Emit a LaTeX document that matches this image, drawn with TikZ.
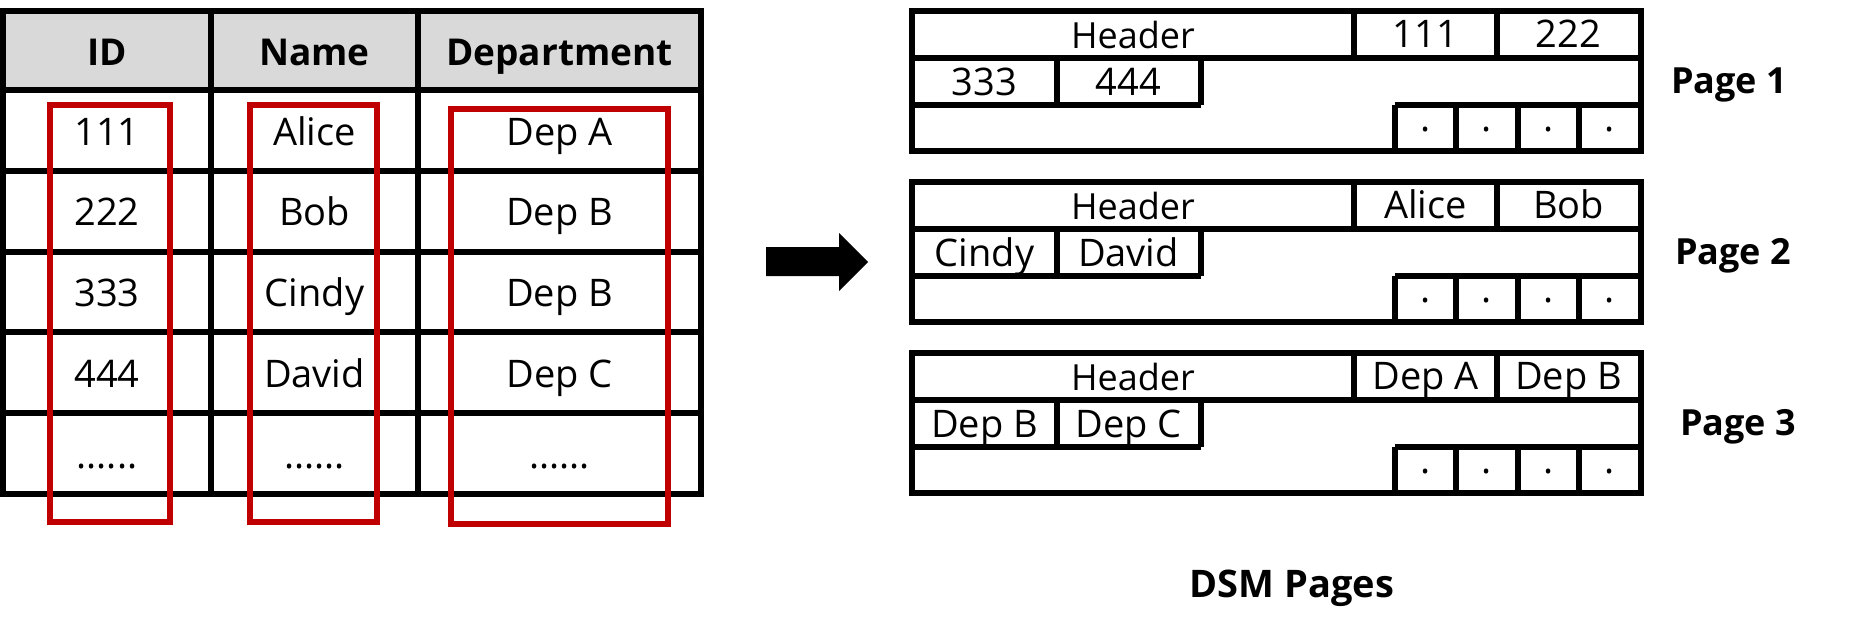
\documentclass[tikz,border=0pt]{standalone}
\usepackage{fontspec}
\setmainfont{Open Sans}
\definecolor{hdrgray}{HTML}{D9D9D9}
\definecolor{boxred}{HTML}{C00000}
\tikzset{
  grid/.style={line width=6pt, black},
  redbox/.style={line width=6pt, boxred},
  thead/.style={anchor=base, inner sep=0pt, font=\fontsize{37}{40}\selectfont\bfseries},
  tcell/.style={anchor=base, inner sep=0pt, font=\fontsize{38}{40}\selectfont},
  pcell/.style={anchor=base, inner sep=0pt, font=\fontsize{38}{40}\selectfont},
  phead/.style={anchor=base, inner sep=0pt, font=\fontsize{36}{40}\selectfont},
  pdot/.style={inner sep=0pt, font=\fontsize{38}{40}\selectfont},
  plabel/.style={anchor=base, inner sep=0pt, font=\fontsize{36}{40}\selectfont\bfseries},
}
\begin{document}
\begin{tikzpicture}[x=1pt,y=-1pt]
\useasboundingbox (0,0) rectangle (1871,629);
% ---------- table ----------
\fill[hdrgray] (3,11) rectangle (701,90);
\draw[grid] (3,11) rectangle (701,494);
\foreach \yy in {90,171,252,332,413} \draw[grid] (3,\yy) -- (701,\yy);
\foreach \xx in {211,418} \draw[grid] (\xx,11) -- (\xx,494);
\node[thead] (hid) at (107,65) {ID};
\node[thead] (hname) at (314.5,65) {Name};
\node[thead] (hdep) at (559.5,65) {Department};
\node[tcell] (c11) at (107,145) {111};
\node[tcell] (c21) at (107,225.75) {222};
\node[tcell] (c31) at (107,306.5) {333};
\node[tcell] (c41) at (107,387.25) {444};
\node[tcell] (c51) at (107,468) {......};
\node[tcell] (c12) at (314.5,145) {Alice};
\node[tcell] (c22) at (314.5,225.75) {Bob};
\node[tcell] (c32) at (314.5,306.5) {Cindy};
\node[tcell] (c42) at (314.5,387.25) {David};
\node[tcell] (c52) at (314.5,468) {......};
\node[tcell] (c13) at (559.5,145) {Dep A};
\node[tcell] (c23) at (559.5,225.75) {Dep B};
\node[tcell] (c33) at (559.5,306.5) {Dep B};
\node[tcell] (c43) at (559.5,387.25) {Dep C};
\node[tcell] (c53) at (559.5,468) {......};
% red column boxes
\draw[redbox] (49.5,105) rectangle (169.5,522);
\draw[redbox] (249.5,105) rectangle (377,521.5);
\draw[redbox] (451,109) rectangle (668,523.5);
% ---------- arrow ----------
\fill[black] (766,247) -- (839,247) -- (839,233) -- (868,262) -- (839,291) -- (839,276) -- (766,276) -- cycle;
% ---------- pages ----------
\foreach \dy/\ha/\hb/\ra/\rb/\lab/\lx in {0/111/222/333/444/Page 1/1729, 171/Alice/Bob/Cindy/David/Page 2/1733, 342/Dep A/Dep B/Dep B/Dep C/Page 3/1738}{
  \begin{scope}[yshift=-\dy pt]
    \draw[grid] (912,11) rectangle (1641,151);
    \draw[grid] (912,57.5) -- (1641,57.5);
    \draw[grid] (1354,11) -- (1354,57.5);
    \draw[grid] (1496.5,11) -- (1496.5,57.5);
    \draw[grid] (912,104.5) -- (1200.5,104.5);
    \draw[grid] (1056.5,57.5) -- (1056.5,104.5);
    \draw[grid] (1200.5,57.5) -- (1200.5,104.5);
    \draw[grid] (1395,104.5) -- (1641,104.5);
    \foreach \xx in {1395,1456,1518,1579} \draw[grid] (\xx,104.5) -- (\xx,151);
    \node[phead] (hdr) at (1133,48) {Header};
    \node[pcell] (ca) at (1425.5,47.5) {\ha};
    \node[pcell] (cb) at (1568.5,47.5) {\hb};
    \node[pcell] (cc) at (984.5,95) {\ra};
    \node[pcell] (cd) at (1128.5,95) {\rb};
    \foreach \xx [count=\k] in {1425.5,1487,1548.5,1610} \node[pdot] (dot\k) at (\xx,130) {.};
    \node[plabel] (lab) at (\lx,93) {\lab};
  \end{scope}
}
\node[anchor=base, inner sep=0pt, font=\fontsize{38}{40}\selectfont\bfseries] (dsm) at (1292,597) {DSM Pages};
\end{tikzpicture}
\end{document}
